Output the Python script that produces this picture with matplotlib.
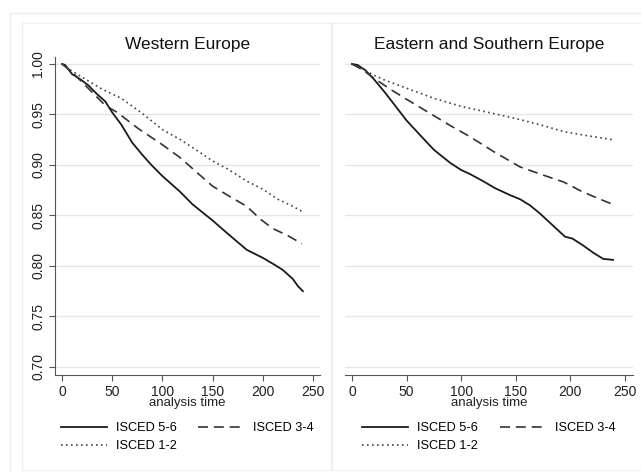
import matplotlib
matplotlib.use("Agg")
import matplotlib.pyplot as plt
from matplotlib.lines import Line2D

plt.rcParams['font.family'] = ['Liberation Sans', 'DejaVu Sans']

# survival estimates (analysis time, survival)
west_t_56 = [0, 3, 10, 18, 26, 35, 43, 50, 59, 70, 80, 89, 100, 117, 130, 150, 165, 184, 200, 212, 220, 230, 235, 240]
west_s_56 = [1.0, 0.999, 0.990, 0.985, 0.979, 0.970, 0.963, 0.952, 0.940, 0.922, 0.910, 0.900, 0.889, 0.874, 0.861, 0.845, 0.832, 0.816, 0.808, 0.801, 0.796, 0.787, 0.780, 0.775]
west_t_34 = [0, 10, 20, 30, 43, 55, 76, 100, 118, 135, 150, 165, 184, 198, 210, 225, 239]
west_s_34 = [1.0, 0.992, 0.982, 0.972, 0.959, 0.952, 0.936, 0.920, 0.907, 0.892, 0.879, 0.870, 0.859, 0.846, 0.837, 0.830, 0.822]
west_t_12 = [0, 10, 25, 40, 59, 80, 100, 118, 135, 150, 165, 184, 200, 215, 230, 239]
west_s_12 = [1.0, 0.993, 0.984, 0.975, 0.966, 0.951, 0.935, 0.925, 0.914, 0.904, 0.896, 0.884, 0.876, 0.866, 0.859, 0.854]

east_t_56 = [0, 5, 12, 20, 30, 40, 50, 62, 75, 90, 100, 108, 120, 131, 145, 154, 163, 172, 184, 195, 202, 212, 221, 230, 239]
east_s_56 = [1.0, 0.999, 0.994, 0.985, 0.972, 0.958, 0.944, 0.930, 0.915, 0.902, 0.895, 0.891, 0.884, 0.877, 0.870, 0.866, 0.860, 0.852, 0.840, 0.829, 0.827, 0.820, 0.813, 0.807, 0.806]
east_t_34 = [0, 10, 20, 35, 50, 70, 90, 108, 130, 154, 175, 194, 210, 225, 241]
east_s_34 = [1.0, 0.994, 0.986, 0.975, 0.965, 0.952, 0.939, 0.928, 0.913, 0.898, 0.890, 0.883, 0.874, 0.867, 0.860]
east_t_12 = [0, 10, 18, 30, 50, 75, 100, 125, 150, 175, 194, 215, 239]
east_s_12 = [1.0, 0.995, 0.990, 0.984, 0.976, 0.966, 0.958, 0.952, 0.946, 0.939, 0.933, 0.929, 0.925]

labels = ["ISCED 5-6", "ISCED 3-4", "ISCED 1-2"]
titles = ["Western Europe", "Eastern and Southern Europe"]
yticks = [0.70, 0.75, 0.80, 0.85, 0.90, 0.95, 1.00]
xticks = [0, 50, 100, 150, 200, 250]

W, H = 641, 472
fig = plt.figure(figsize=(W / 100, H / 100), dpi=100)


def px_box(x0, y0, x1, y1):
    return [x0 / W, 1 - y1 / H, (x1 - x0) / W, (y1 - y0) / H]


def frame(x0, y0, x1, y1, color):
    xs = [x0 / W, x1 / W, x1 / W, x0 / W, x0 / W]
    ys = [1 - y0 / H, 1 - y0 / H, 1 - y1 / H, 1 - y1 / H, 1 - y0 / H]
    fig.add_artist(Line2D(xs, ys, color=color, lw=1.0, transform=fig.transFigure))


# stata-like outer and panel frames
frame(10, 13, 645, 476, "#ececec")
frame(22, 23, 331, 470, "#f0f0f0")
frame(332, 23, 645, 470, "#f0f0f0")

ax1 = fig.add_axes(px_box(55, 57, 320, 375))
ax2 = fig.add_axes(px_box(345, 57, 633, 375))

data = [
    [(west_t_56, west_s_56), (west_t_34, west_s_34), (west_t_12, west_s_12)],
    [(east_t_56, east_s_56), (east_t_34, east_s_34), (east_t_12, east_s_12)],
]
styles = [
    dict(ls="-", lw=1.3, color="#1a1a1a"),
    dict(ls=(0, (6, 3.5)), lw=1.2, color="#333333"),
    dict(ls=(0, (1, 2)), lw=1.2, color="#444444"),
]

for i, ax in enumerate([ax1, ax2]):
    lines = []
    for (t, s), st, lab in zip(data[i], styles, labels):
        lines += ax.plot(t, s, label=lab, **st)
    ax.set_ylim(0.692, 1.0069)
    if i == 0:
        ax.set_xlim(-7, 257)
    else:
        ax.set_xlim(-6.4, 257.3)
    ax.set_yticks(yticks)
    ax.set_xticks(xticks)
    ax.grid(axis="y", color="#e6e6e6", lw=1.0)
    ax.set_axisbelow(True)
    for sp in ["top", "right"]:
        ax.spines[sp].set_visible(False)
    ax.spines["bottom"].set_color("#555555")
    ax.spines["left"].set_color("#555555")
    ax.tick_params(axis="x", colors="#555555", labelcolor="#222222", labelsize=10, length=4, pad=3)
    ax.set_xlabel("analysis time", fontsize=9.5, color="#222222", labelpad=-1)
    ax.set_title(titles[i], fontsize=12.5, color="#111111", pad=6)
    if i == 0:
        ax.set_yticklabels([f"{v:.2f}" for v in yticks], rotation=90, va="center")
        ax.tick_params(axis="y", colors="#555555", labelcolor="#222222", labelsize=10, length=4, pad=3)
    else:
        ax.spines["left"].set_visible(False)
        ax.tick_params(axis="y", left=False, labelleft=False)
    # legend is filled column by column, so reorder to get 5-6, 3-4 on the first row
    order = [0, 2, 1]
    ax.legend([lines[k] for k in order], [labels[k] for k in order],
              loc="upper center", bbox_to_anchor=(0.5, -0.113), ncol=2, frameon=False,
              fontsize=9.2, handlelength=3.6, columnspacing=1.7, labelspacing=0.45,
              handletextpad=0.7)

fig.savefig("out.png", dpi=100, facecolor="white")
